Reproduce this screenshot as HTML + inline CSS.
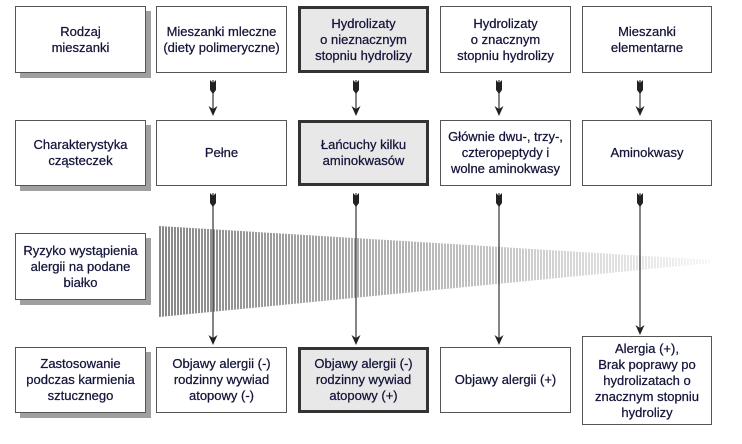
<!DOCTYPE html>
<html><head><meta charset="utf-8"><style>
body{margin:0;width:742px;height:444px;background:#fff;position:relative;overflow:hidden;font-family:"Liberation Sans",sans-serif;}
.b{position:absolute;box-sizing:border-box;border:1.5px solid #555;background:#fff;display:flex;align-items:center;justify-content:center;text-align:center;font-size:13px;line-height:16px;color:#14143a;-webkit-text-stroke:0.25px #14143a;}
.s{box-shadow:5px 5px 0 #a0a0a0;}
.g{background:#e8e8e8;border:3px solid #333;}
svg{position:absolute;left:0;top:0;}
</style></head><body>
<svg width="742" height="444">
<defs>
<linearGradient id="lg" x1="159" x2="711" gradientUnits="userSpaceOnUse">
<stop offset="0" stop-color="#888"/><stop offset="0.6" stop-color="#c4c4c4"/><stop offset="1" stop-color="#f6f6f6"/></linearGradient>
<pattern id="pt" width="3" height="10" patternUnits="userSpaceOnUse"><rect x="2" width="1" height="10" fill="#fff"/></pattern>
<g id="tail"><path d="M-3,0 L0,3 L3,0 L3,10 L0,14 L-3,10 Z" fill="#222"/></g>
<g id="head"><path d="M-4.5,-10 L0,0 L4.5,-10 L0,-7 Z" fill="#222"/></g>
</defs>
<polygon points="159,226 711,260 711,263 159,317" fill="url(#lg)"/>
<polygon points="159,226 711,260 711,263 159,317" fill="url(#pt)"/>
<g stroke="#333" stroke-width="1.2">
<line x1="213" y1="80" x2="213" y2="112"/><line x1="356" y1="80" x2="356" y2="112"/><line x1="499" y1="80" x2="499" y2="112"/><line x1="640" y1="80" x2="640" y2="112"/>
<line x1="213" y1="193" x2="213" y2="343"/><line x1="356" y1="193" x2="356" y2="343"/><line x1="499" y1="193" x2="499" y2="343"/><line x1="640" y1="193" x2="640" y2="333"/>
</g>
<use href="#tail" x="213" y="80"/><use href="#tail" x="356" y="80"/><use href="#tail" x="499" y="80"/><use href="#tail" x="640" y="80"/>
<use href="#head" x="213" y="116"/><use href="#head" x="356" y="116"/><use href="#head" x="499" y="116"/><use href="#head" x="640" y="116"/>
<use href="#tail" x="213" y="193"/><use href="#tail" x="356" y="193"/><use href="#tail" x="499" y="193"/><use href="#tail" x="640" y="193"/>
<use href="#head" x="213" y="345"/><use href="#head" x="356" y="345"/><use href="#head" x="499" y="345"/><use href="#head" x="640" y="335"/>
</svg>
<div class="b s" style="left:15px;top:6px;width:131px;height:67px;">Rodzaj<br>mieszanki</div>
<div class="b" style="left:156px;top:6px;width:131px;height:67px;">Mieszanki mleczne<br>(diety polimeryczne)</div>
<div class="b g" style="left:298px;top:6px;width:131px;height:67px;">Hydrolizaty<br>o nieznacznym<br>stopniu hydrolizy</div>
<div class="b" style="left:440px;top:6px;width:131px;height:67px;">Hydrolizaty<br>o znacznym<br>stopniu hydrolizy</div>
<div class="b" style="left:582px;top:6px;width:130px;height:67px;">Mieszanki<br>elementarne</div>

<div class="b s" style="left:15px;top:120px;width:131px;height:66px;">Charakterystyka<br>cząsteczek</div>
<div class="b" style="left:156px;top:120px;width:131px;height:66px;">Pełne</div>
<div class="b g" style="left:298px;top:120px;width:131px;height:66px;">Łańcuchy kilku<br>aminokwasów</div>
<div class="b" style="left:440px;top:120px;width:131px;height:66px;">Głównie dwu-, trzy-,<br>czteropeptydy i<br>wolne aminokwasy</div>
<div class="b" style="left:582px;top:120px;width:130px;height:66px;">Aminokwasy</div>

<div class="b s" style="left:15px;top:233px;width:131px;height:67px;">Ryzyko wystąpienia<br>alergii na podane<br>białko</div>

<div class="b s" style="left:15px;top:347px;width:131px;height:66px;">Zastosowanie<br>podczas karmienia<br>sztucznego</div>
<div class="b" style="left:156px;top:347px;width:131px;height:66px;">Objawy alergii (-)<br>rodzinny wywiad<br>atopowy (-)</div>
<div class="b g" style="left:298px;top:347px;width:131px;height:66px;">Objawy alergii (-)<br>rodzinny wywiad<br>atopowy (+)</div>
<div class="b" style="left:440px;top:347px;width:131px;height:66px;">Objawy alergii (+)</div>
<div class="b" style="left:582px;top:336px;width:130px;height:89px;">Alergia (+),<br>Brak poprawy po<br>hydrolizatach o<br>znacznym stopniu<br>hydrolizy</div>
</body></html>
